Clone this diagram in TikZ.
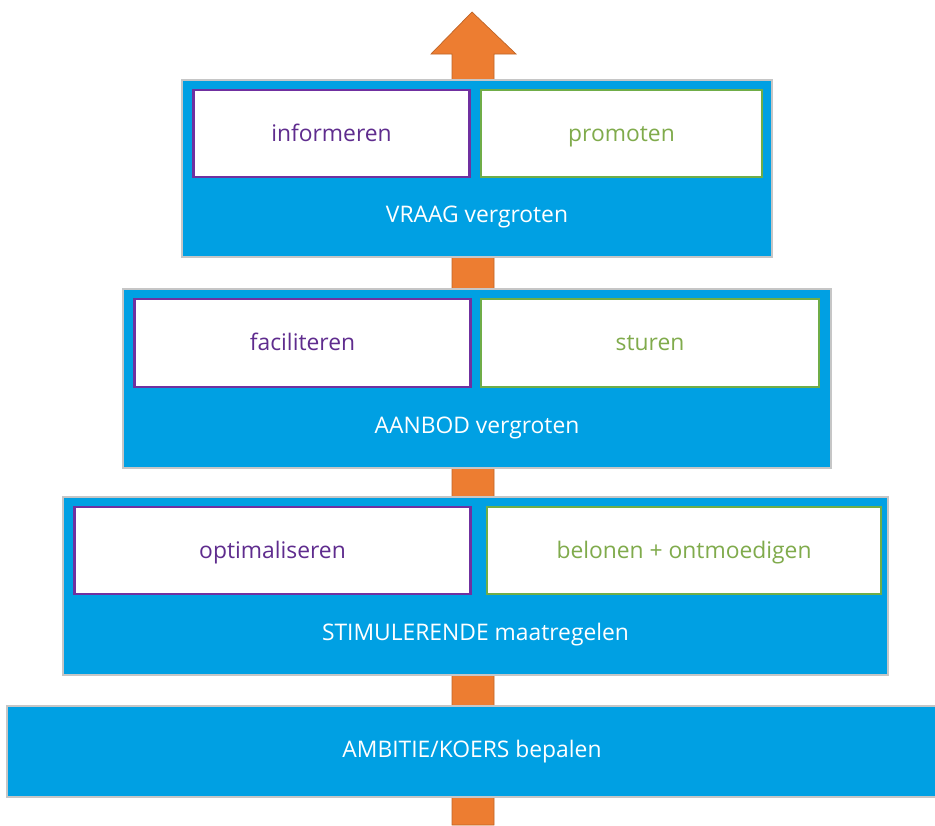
\documentclass[tikz,border=0pt]{standalone}
\usepackage{fontspec}
\setmainfont{Open Sans}
\usepackage{tikz}

\definecolor{balkblauw}{HTML}{00A0E3}
\definecolor{pijloranje}{HTML}{ED7D31}
\definecolor{paars}{HTML}{7030A0}
\definecolor{paarstekst}{HTML}{5F2C8E}
\definecolor{groen}{HTML}{70AD47}
\definecolor{groentekst}{HTML}{80AB4C}

\tikzset{
  balk/.style={fill=balkblauw, draw=gray!45, line width=0.6pt, inner sep=0pt},
  vakje/.style={fill=white, line width=1.6pt, inner sep=0pt,
    text height=1.9ex, text depth=0.3ex},
  balktekst/.style={text=white, font=\fontsize{13}{15}\selectfont},
  vaktekst/.style={font=\fontsize{13}{15}\selectfont}
}

\begin{document}
\begin{tikzpicture}[x=0.02cm,y=-0.02cm]
          \useasboundingbox (0,0) rectangle (935,825);
          % pijl omhoog
          \fill[pijloranje,draw=pijloranje!80!black,line width=0.4pt]
            (472,12) -- (516,54) -- (494,54) -- (494,825) -- (452,825)
            -- (452,54) -- (431,54) -- cycle;
          % drie niveaus
          \foreach \n/\t/\b/\l/\r/\pr/\gl/\gr/\ib/\p/\g/\txt in {
              1/80/257/182/772/470/481/762/177/informeren/promoten/VRAAG vergroten,
              2/289/468/123/831/471/481/819/387/faciliteren/sturen/AANBOD vergroten,
              3/497/675/63/888/471/487/881/594/optimaliseren/belonen + ontmoedigen/STIMULERENDE maatregelen}{
            \node[balk, minimum width={(\r-\l)*0.02cm}, minimum height={(\b-\t)*0.02cm}]
              (niveau\n) at ({(\l+\r)/2},{(\t+\b)/2}) {};
            \node[vakje, draw=paars, text=paarstekst, vaktekst,
              minimum width={(\pr-\l-12)*0.02cm}, minimum height={(\ib-\t-10)*0.02cm}]
              (links\n) at ({(\l+11+\pr)/2},{(\t+10+\ib)/2}) {\p};
            \node[vakje, draw=groen, text=groentekst, vaktekst,
              minimum width={(\gr-\gl)*0.02cm}, minimum height={(\ib-\t-10)*0.02cm}]
              (rechts\n) at ({(\gl+\gr)/2},{(\t+10+\ib)/2}) {\g};
            \node[balktekst] (tekst\n) at ({(\l+\r)/2},{(\ib+\b)/2}) {\txt};}
          % basis
          \node[balk, minimum width={930*0.02cm}, minimum height={91*0.02cm}]
            (basis) at (472,751.5) {};
          \node[balktekst] (basistekst) at (basis.center) {AMBITIE/KOERS bepalen};
        \end{tikzpicture}
\end{document}
